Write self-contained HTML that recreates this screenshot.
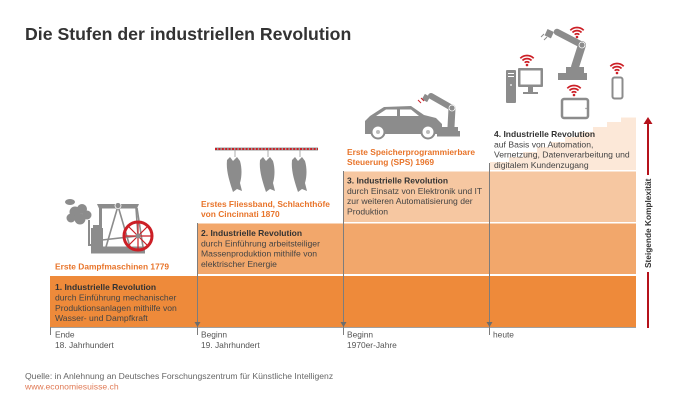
<!DOCTYPE html>
<html><head><meta charset="utf-8">
<style>
html,body{margin:0;padding:0;background:#fff;}
svg{display:block;}
text{font-family:"Liberation Sans",Arial,sans-serif;}
.b{font-weight:bold;fill:#333;font-size:8.5px;}
.r{fill:#444;font-size:8.6px;}
.o{font-weight:bold;fill:#E8742A;font-size:8.4px;}
.ax{fill:#555;font-size:8.4px;}
</style></head>
<body>
<svg width="700" height="415" viewBox="0 0 700 415" xmlns="http://www.w3.org/2000/svg">
<rect width="700" height="415" fill="#fff"/>
<text x="25" y="40" style="font-weight:bold;font-size:17.7px;fill:#333">Die Stufen der industriellen Revolution</text>

<!-- bands -->
<path d="M490,170 L490,162 L509,162 L509,157 L523,157 L523,152 L537,152 L537,147 L551,147 L551,142 L565,142 L565,137 L579,137 L579,132 L593,132 L593,127 L607,127 L607,122 L621,122 L621,117.5 L636,117.5 L636,170 Z" fill="#FCE8D8"/>
<rect x="343" y="171.5" width="293" height="50.5" fill="#F6C7A1"/>
<rect x="197" y="223.5" width="439" height="50.5" fill="#F2A76B"/>
<rect x="50" y="276" width="586" height="51" fill="#EE8A3A"/>

<!-- axis -->
<line x1="50" y1="327.5" x2="636" y2="327.5" stroke="#a0a0a0" stroke-width="1"/>
<g stroke="#7d7d7d" stroke-width="1">
<line x1="50.5" y1="327" x2="50.5" y2="335"/>
<line x1="197.5" y1="223" x2="197.5" y2="335"/>
<line x1="343.5" y1="171" x2="343.5" y2="335"/>
<line x1="489.5" y1="163" x2="489.5" y2="335"/>
</g>
<g fill="#6d6d6d">
<path d="M194.5,322 L200.5,322 L197.5,327 Z"/>
<path d="M340.5,322 L346.5,322 L343.5,327 Z"/>
<path d="M486.5,322 L492.5,322 L489.5,327 Z"/>
</g>

<!-- band text -->
<text x="55" y="290" class="b">1. Industrielle Revolution</text>
<text x="55" y="300.5" class="r">durch Einführung mechanischer</text>
<text x="55" y="310.8" class="r">Produktionsanlagen mithilfe von</text>
<text x="55" y="321" class="r">Wasser- und Dampfkraft</text>

<text x="201" y="236" class="b">2. Industrielle Revolution</text>
<text x="201" y="246.3" class="r">durch Einführung arbeitsteiliger</text>
<text x="201" y="256.6" class="r">Massenproduktion mithilfe von</text>
<text x="201" y="267" class="r">elektrischer Energie</text>

<text x="347" y="183.5" class="b">3. Industrielle Revolution</text>
<text x="347" y="193.8" class="r">durch Einsatz von Elektronik und IT</text>
<text x="347" y="204.1" class="r">zur weiteren Automatisierung der</text>
<text x="347" y="214.4" class="r">Produktion</text>

<text x="494" y="137" class="b">4. Industrielle Revolution</text>
<text x="494" y="147.4" class="r">auf Basis von Automation,</text>
<text x="494" y="157.7" class="r">Vernetzung, Datenverarbeitung und</text>
<text x="494" y="168" class="r">digitalem Kundenzugang</text>

<!-- orange captions -->
<text x="55" y="269.5" class="o">Erste Dampfmaschinen 1779</text>
<text x="201" y="207" class="o">Erstes Fliessband, Schlachthöfe</text>
<text x="201" y="217" class="o">von Cincinnati 1870</text>
<text x="347" y="155" class="o">Erste Speicherprogrammierbare</text>
<text x="347" y="165" class="o">Steuerung (SPS) 1969</text>

<!-- axis labels -->
<text x="55" y="337.5" class="ax">Ende</text>
<text x="55" y="347.8" class="ax">18. Jahrhundert</text>
<text x="201" y="337.5" class="ax">Beginn</text>
<text x="201" y="347.8" class="ax">19. Jahrhundert</text>
<text x="347" y="337.5" class="ax">Beginn</text>
<text x="347" y="347.8" class="ax">1970er-Jahre</text>
<text x="493" y="337.5" class="ax">heute</text>

<!-- source -->
<text x="25" y="379" style="font-size:8.6px;fill:#666">Quelle: in Anlehnung an Deutsches Forschungszentrum für Künstliche Intelligenz</text>
<text x="25" y="389.5" style="font-size:8.6px;fill:#E07A55">www.economiesuisse.ch</text>

<!-- complexity arrow -->
<g stroke="#B5121B" stroke-width="2">
<line x1="648" y1="122" x2="648" y2="175"/>
<line x1="648" y1="272" x2="648" y2="328"/>
</g>
<path d="M643.5,124 L652.5,124 L648,117 Z" fill="#B5121B"/>
<text x="0" y="0" transform="translate(651,268) rotate(-90)" style="font-weight:bold;font-size:8.3px;fill:#333">Steigende Komplexität</text>

<!-- steam engine -->
<g fill="#8c8c8c" stroke="none">
<ellipse cx="70" cy="202" rx="5" ry="3"/>
<circle cx="75" cy="212" r="5.5"/>
<circle cx="82" cy="209" r="5"/>
<circle cx="87" cy="215" r="4.5"/>
<circle cx="80" cy="219" r="5.5"/>
<circle cx="71" cy="218" r="4.5"/>
<path d="M97,204 L139,204 L137,208.5 L99,208.5 Z"/>
<rect x="99" y="208" width="3" height="40"/>
<rect x="91" y="228" width="12" height="19"/>
<rect x="93" y="225" width="8" height="3"/>
<rect x="88" y="220" width="2" height="26"/>
<rect x="88" y="244" width="5" height="2"/>
<rect x="91" y="246.5" width="54" height="7"/>
</g>
<g stroke="#8c8c8c" stroke-width="1.6" fill="none">
<line x1="137" y1="208" x2="143" y2="247"/>
<line x1="118" y1="206" x2="106" y2="247"/>
<line x1="118" y1="206" x2="130" y2="247"/>
<line x1="136" y1="208" x2="138" y2="236"/>
<line x1="102" y1="240" x2="138" y2="236"/>
</g>
<circle cx="118" cy="205.5" r="3" fill="#8c8c8c" stroke="#fff" stroke-width="0.8"/>
<g stroke="#CC1F26" fill="none">
<circle cx="138" cy="236" r="14" stroke-width="3"/>
<g stroke-width="1.2">
<line x1="124" y1="236" x2="152" y2="236"/>
<line x1="138" y1="222" x2="138" y2="250"/>
<line x1="128" y1="226" x2="148" y2="246"/>
<line x1="148" y1="226" x2="128" y2="246"/>
</g>
</g>
<circle cx="138" cy="236" r="2.5" fill="#8c8c8c"/>

<!-- conveyor + carcasses -->
<line x1="215" y1="149" x2="318" y2="149" stroke="#9a9a9a" stroke-width="3"/>
<line x1="215" y1="149" x2="318" y2="149" stroke="#CC1F26" stroke-width="2" stroke-dasharray="2 1.4"/>
<g fill="#8c8c8c" stroke="none">
<g transform="translate(235,0)">
<rect x="-0.4" y="150" width="0.8" height="7" fill="#999"/>
<path d="M-8,160 L-5,157 L-2,161 L2,157 L5,161 C7,168 7,176 5,183 L7,191 L2,189 L-2,192 L-4,186 C-6,179 -9,170 -8,160 Z"/>
</g>
<g transform="translate(268,0)">
<rect x="-0.4" y="150" width="0.8" height="7" fill="#999"/>
<path d="M-8,160 L-5,157 L-2,161 L2,157 L5,161 C7,168 7,176 5,183 L7,191 L2,189 L-2,192 L-4,186 C-6,179 -9,170 -8,160 Z"/>
</g>
<g transform="translate(300,0)">
<rect x="-0.4" y="150" width="0.8" height="7" fill="#999"/>
<path d="M-8,160 L-5,157 L-2,161 L2,157 L5,161 C7,168 7,176 5,183 L7,191 L2,189 L-2,192 L-4,186 C-6,179 -9,170 -8,160 Z"/>
</g>
</g>

<!-- car + robot -->
<g fill="#8c8c8c">
<path d="M365,134 L365,121 L370,116 L384,107 L411,106 L424,115 L436,118 L442,124 L442,134 Z"/>
<rect x="437" y="131" width="23" height="5.5"/>
<rect x="440" y="127" width="18" height="4.5"/>
</g>
<g fill="#fff">
<path d="M376,116 L386,109.5 L397,109.5 L397,116 Z"/>
<path d="M400,109.5 L411,109.5 L419,116 L400,116 Z"/>
</g>
<g stroke="#8c8c8c" stroke-linecap="round" fill="none">
<line x1="451" y1="127" x2="452" y2="108" stroke-width="7"/>
<line x1="452" y1="108" x2="431" y2="96" stroke-width="6"/>
</g>
<circle cx="452" cy="108" r="3" fill="#8c8c8c" stroke="#fff" stroke-width="0.8"/>
<rect x="423" y="95" width="6" height="6" fill="#8c8c8c" transform="rotate(30 426 98)"/>
<g stroke="#CC1F26" stroke-width="1"><line x1="418" y1="100" x2="421" y2="103"/><line x1="421" y1="98" x2="424" y2="101"/></g>
<g>
<circle cx="378" cy="132" r="6.5" fill="#fff" stroke="#8c8c8c" stroke-width="2"/>
<circle cx="378" cy="132" r="2" fill="#bbb"/>
<circle cx="428" cy="132" r="6.5" fill="#fff" stroke="#8c8c8c" stroke-width="2"/>
<circle cx="428" cy="132" r="2" fill="#bbb"/>
</g>

<!-- top-right icons -->
<g fill="#8c8c8c">
<rect x="506" y="70" width="10" height="33" rx="1"/>
<rect x="518" y="68" width="25" height="19" rx="1"/>
<rect x="528" y="87" width="5" height="5"/>
<rect x="523" y="92" width="15" height="2"/>
<rect x="558" y="73" width="29" height="7"/>
<rect x="566" y="67" width="18" height="7"/>
</g>
<rect x="520.5" y="70.5" width="20" height="14" fill="#fff"/>
<g fill="#fff"><rect x="508" y="73" width="6" height="1"/><rect x="508" y="76" width="6" height="1"/><circle cx="511" cy="85" r="0.9"/></g>
<g stroke="#8c8c8c" stroke-linecap="round" fill="none">
<line x1="575" y1="67" x2="582" y2="45" stroke-width="8"/>
<line x1="582" y1="45" x2="557" y2="32" stroke-width="6.5"/>
</g>
<circle cx="582" cy="45" r="3" fill="#8c8c8c" stroke="#fff" stroke-width="0.8"/>
<rect x="546" y="30" width="7" height="7" fill="#8c8c8c" transform="rotate(25 549 33)"/>
<g stroke="#8c8c8c" stroke-width="1"><line x1="544" y1="34" x2="541" y2="37"/><line x1="547" y1="37" x2="544" y2="40"/></g>
<rect x="562" y="99" width="26" height="19" rx="2" fill="#fff" stroke="#8c8c8c" stroke-width="2.5"/>
<circle cx="586" cy="108.5" r="0.7" fill="#8c8c8c"/>
<rect x="612.5" y="77.5" width="10" height="21" rx="2" fill="#fff" stroke="#8c8c8c" stroke-width="2"/>

<!-- wifi -->
<g fill="none" stroke="#CC1F26" stroke-width="1.7" stroke-linecap="butt">
<g transform="translate(527,65)">
<path d="M-2.3,-2.3 A3.2,3.2 0 0 1 2.3,-2.3"/><path d="M-4.5,-4.5 A6.4,6.4 0 0 1 4.5,-4.5"/><path d="M-6.7,-6.7 A9.5,9.5 0 0 1 6.7,-6.7"/>
</g>
<g transform="translate(577,37)">
<path d="M-2.3,-2.3 A3.2,3.2 0 0 1 2.3,-2.3"/><path d="M-4.5,-4.5 A6.4,6.4 0 0 1 4.5,-4.5"/><path d="M-6.7,-6.7 A9.5,9.5 0 0 1 6.7,-6.7"/>
</g>
<g transform="translate(574,95)">
<path d="M-2.3,-2.3 A3.2,3.2 0 0 1 2.3,-2.3"/><path d="M-4.5,-4.5 A6.4,6.4 0 0 1 4.5,-4.5"/><path d="M-6.7,-6.7 A9.5,9.5 0 0 1 6.7,-6.7"/>
</g>
<g transform="translate(617,73)">
<path d="M-2.3,-2.3 A3.2,3.2 0 0 1 2.3,-2.3"/><path d="M-4.5,-4.5 A6.4,6.4 0 0 1 4.5,-4.5"/><path d="M-6.7,-6.7 A9.5,9.5 0 0 1 6.7,-6.7"/>
</g>
</g>
<g fill="#CC1F26">
<circle cx="527" cy="65" r="1.3"/><circle cx="577" cy="37" r="1.3"/><circle cx="574" cy="95" r="1.3"/><circle cx="617" cy="73" r="1.3"/>
</g>
</svg>
</body></html>
